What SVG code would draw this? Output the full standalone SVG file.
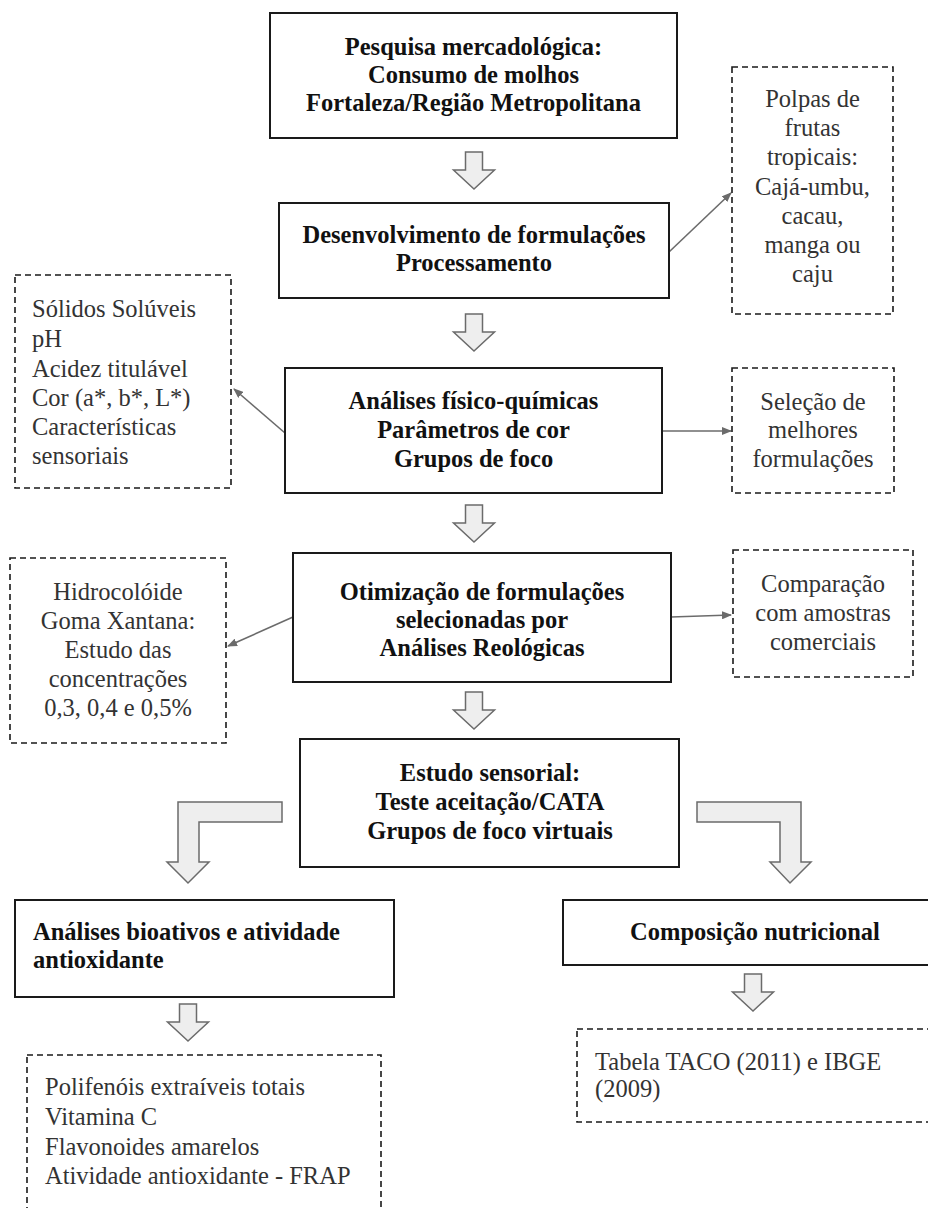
<svg xmlns="http://www.w3.org/2000/svg" xmlns:xlink="http://www.w3.org/1999/xlink" width="928" height="1208" viewBox="0 0 928 1208">
<style>
.box{fill:#fff;stroke:#1a1a1a;stroke-width:2}
.dash{fill:#fff;stroke:#1a1a1a;stroke-width:1.6;stroke-dasharray:6 4}
.blk{fill:#eeeeee;stroke:#6b6b6b;stroke-width:1.5;stroke-linejoin:miter}
.con{fill:none;stroke:#6b6b6b;stroke-width:1.6}
text{font-family:"Liberation Serif","Times New Roman",serif;font-size:24.5px}
.b{font-weight:bold;fill:#111}
.r{fill:#333}
.c{text-anchor:middle}
</style>
<defs>
<path id="down" class="blk" d="M-8.5,0 H8.5 V18 H20.5 L0,37 L-20.5,18 H-8.5 Z"/>
<marker id="ah" markerWidth="10" markerHeight="8" refX="9" refY="4" orient="auto" markerUnits="userSpaceOnUse">
<path d="M0,0 L10,4 L0,8 Z" fill="#6b6b6b"/>
</marker>
</defs>
<rect width="928" height="1208" fill="#fff"/>

<g id="connectors">
<line class="con" x1="669" y1="252" x2="731" y2="193" marker-end="url(#ah)"/>
<line class="con" x1="285" y1="433" x2="234" y2="389" marker-end="url(#ah)"/>
<line class="con" x1="662" y1="431" x2="731" y2="431" marker-end="url(#ah)"/>
<line class="con" x1="293" y1="617" x2="228" y2="646" marker-end="url(#ah)"/>
<line class="con" x1="671" y1="617" x2="731" y2="615" marker-end="url(#ah)"/>
<use href="#down" x="474" y="152"/>
<use href="#down" x="474" y="314"/>
<use href="#down" x="474" y="505"/>
<use href="#down" x="474" y="692"/>
<use href="#down" x="188" y="1004"/>
<use href="#down" x="753" y="974"/>
<path class="blk" d="M282,802 H178 V862 H167 L188,883 L209,862 H199 V822 H282 Z"/>
<path class="blk" d="M697,802 H801 V862 H811 L790,883 L770,862 H780 V822 H697 Z"/>
</g>

<g id="n1">
<rect class="box" x="270" y="13" width="407" height="125"/>
<text class="b c" x="473.5" y="55">Pesquisa mercadológica:</text>
<text class="b c" x="473.5" y="83">Consumo de molhos</text>
<text class="b c" x="473.5" y="111">Fortaleza/Região Metropolitana</text>
</g>

<g id="n2">
<rect class="box" x="279" y="203" width="390" height="95"/>
<text class="b c" x="474" y="243">Desenvolvimento de formulações</text>
<text class="b c" x="474" y="271">Processamento</text>
</g>

<g id="n_polpas">
<rect class="dash" x="732" y="67" width="161" height="247"/>
<text class="r c" x="812.5" y="107">Polpas de</text>
<text class="r c" x="812.5" y="136">frutas</text>
<text class="r c" x="812.5" y="165">tropicais:</text>
<text class="r c" x="812.5" y="195">Cajá-umbu,</text>
<text class="r c" x="812.5" y="224">cacau,</text>
<text class="r c" x="812.5" y="253">manga ou</text>
<text class="r c" x="812.5" y="282">caju</text>
</g>

<g id="n_solidos">
<rect class="dash" x="15" y="275" width="216" height="213"/>
<text class="r" x="32" y="317">Sólidos Solúveis</text>
<text class="r" x="32" y="347">pH</text>
<text class="r" x="32" y="377">Acidez titulável</text>
<text class="r" x="32" y="406">Cor (a*, b*, L*)</text>
<text class="r" x="32" y="435">Características</text>
<text class="r" x="32" y="464">sensoriais</text>
</g>

<g id="n3">
<rect class="box" x="285" y="368" width="377" height="125"/>
<text class="b c" x="473.5" y="409">Análises físico-químicas</text>
<text class="b c" x="473.5" y="438">Parâmetros de cor</text>
<text class="b c" x="473.5" y="467">Grupos de foco</text>
</g>

<g id="n_selecao">
<rect class="dash" x="732" y="368" width="162" height="125"/>
<text class="r c" x="813" y="410">Seleção de</text>
<text class="r c" x="813" y="438">melhores</text>
<text class="r c" x="813" y="467">formulações</text>
</g>

<g id="n_hidro">
<rect class="dash" x="10" y="558" width="216" height="185"/>
<text class="r c" x="118" y="600">Hidrocolóide</text>
<text class="r c" x="118" y="629">Goma Xantana:</text>
<text class="r c" x="118" y="658">Estudo das</text>
<text class="r c" x="118" y="687">concentrações</text>
<text class="r c" x="118" y="716">0,3, 0,4 e 0,5%</text>
</g>

<g id="n4">
<rect class="box" x="293" y="553" width="378" height="129"/>
<text class="b c" x="482" y="600">Otimização de formulações</text>
<text class="b c" x="482" y="628">selecionadas por</text>
<text class="b c" x="482" y="656">Análises Reológicas</text>
</g>

<g id="n_comparacao">
<rect class="dash" x="733" y="550" width="180" height="127"/>
<text class="r c" x="823" y="592">Comparação</text>
<text class="r c" x="823" y="621">com amostras</text>
<text class="r c" x="823" y="650">comerciais</text>
</g>

<g id="n5">
<rect class="box" x="300" y="739" width="379" height="128"/>
<text class="b c" x="490" y="781">Estudo sensorial:</text>
<text class="b c" x="490" y="810">Teste aceitação/CATA</text>
<text class="b c" x="490" y="839">Grupos de foco virtuais</text>
</g>

<g id="n6">
<rect class="box" x="15" y="900" width="379" height="97"/>
<text class="b" x="33" y="940">Análises bioativos e atividade</text>
<text class="b" x="33" y="968">antioxidante</text>
</g>

<g id="n7">
<rect class="box" x="563" y="900" width="370" height="65"/>
<text class="b c" x="755" y="940">Composição nutricional</text>
</g>

<g id="n_polifenois">
<rect class="dash" x="27" y="1055" width="354" height="165"/>
<text class="r" x="45" y="1095">Polifenóis extraíveis totais</text>
<text class="r" x="45" y="1125">Vitamina C</text>
<text class="r" x="45" y="1155">Flavonoides amarelos</text>
<text class="r" x="45" y="1184">Atividade antioxidante - FRAP</text>
</g>

<g id="n_tabela">
<rect class="dash" x="577" y="1029" width="356" height="93"/>
<text class="r" x="595" y="1070">Tabela TACO (2011) e IBGE</text>
<text class="r" x="595" y="1097">(2009)</text>
</g>
</svg>
